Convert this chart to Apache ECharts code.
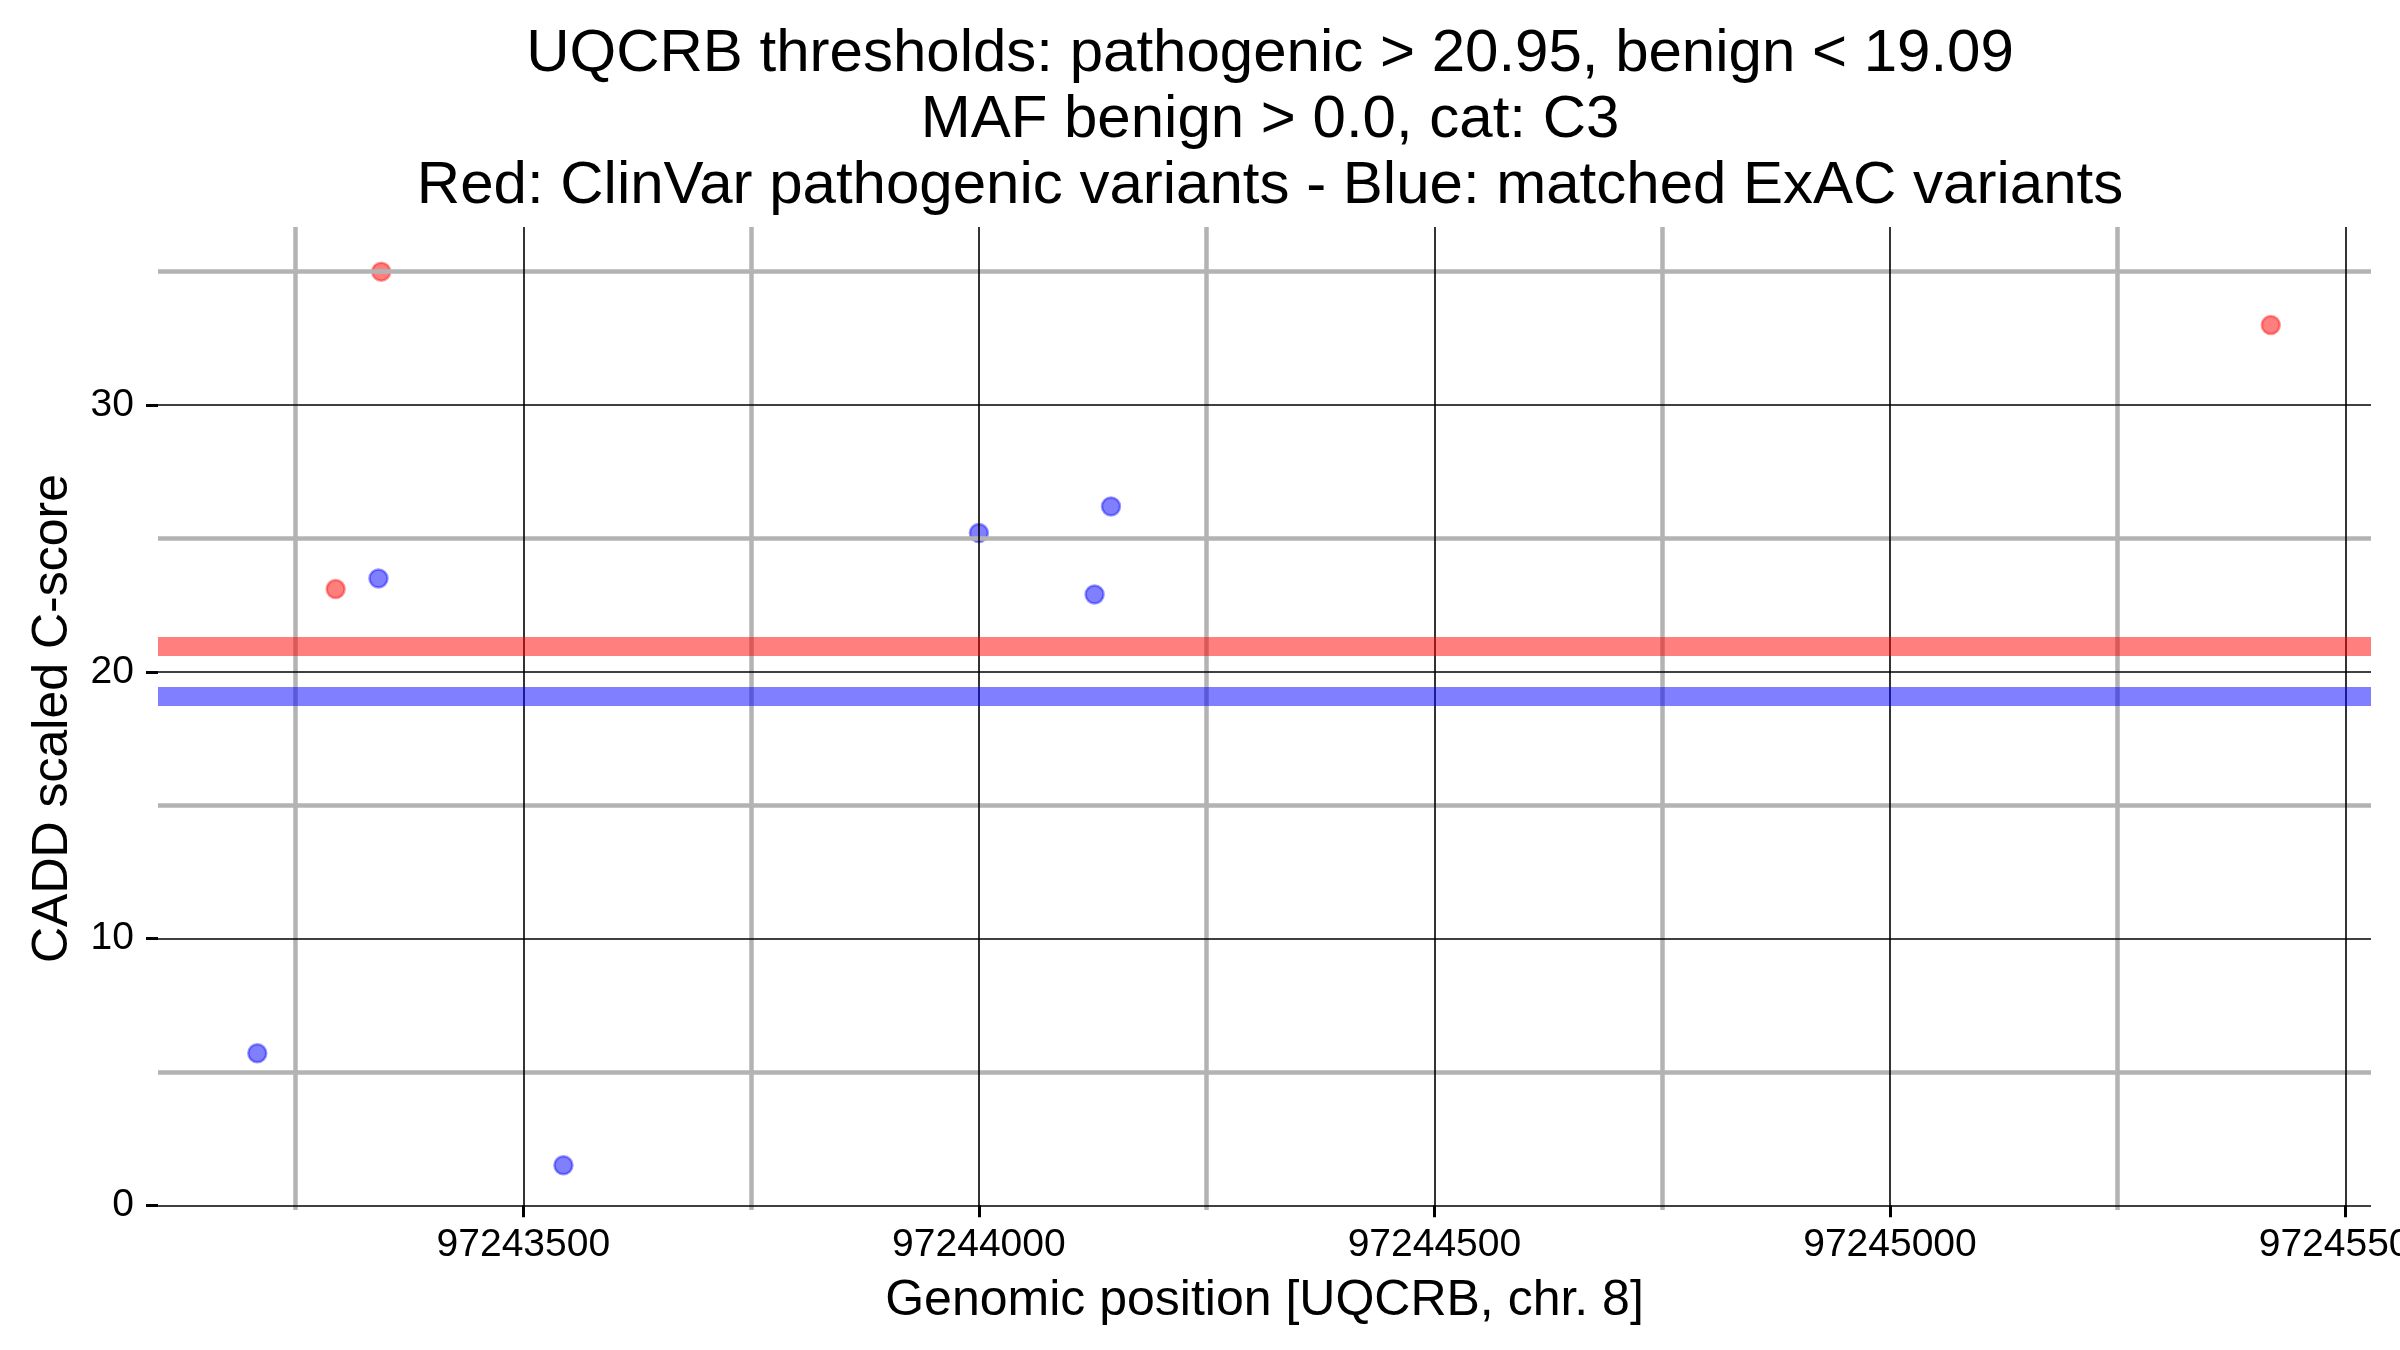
<!DOCTYPE html>
<html>
<head>
<meta charset="utf-8">
<script src="https://cdn.jsdelivr.net/npm/echarts@6/dist/echarts.min.js"></script>
<style>html,body{margin:0;padding:0;background:#fff}#c{width:2400px;height:1350px}</style>
</head>
<body>
<div id="c"></div>
<script>
// ---- data ----
const titleLines = [
  'UQCRB thresholds: pathogenic > 20.95, benign < 19.09',
  'MAF benign > 0.0, cat: C3',
  'Red: ClinVar pathogenic variants - Blue: matched ExAC variants'
];
const xAxisTitle = 'Genomic position [UQCRB, chr. 8]';
const yAxisTitle = 'CADD scaled C-score';
const pathogenicThreshold = 20.95;
const benignThreshold = 19.09;
// ClinVar pathogenic variants [position, CADD]
const redPoints = [[97243294, 23.1], [97243344, 35.0], [97245418, 33.0]];
// matched ExAC variants [position, CADD]
const bluePoints = [[97243208, 5.7], [97243341, 23.5], [97243544, 1.5], [97244000, 25.2], [97244127, 22.9], [97244145, 26.2]];
const xMajorTicks = [97243500, 97244000, 97244500, 97245000, 97245500];
const xMinorTicks = [97243250, 97243750, 97244250, 97244750, 97245250];
const yMajorTicks = [0, 10, 20, 30];
const yMinorTicks = [5, 15, 25, 35];
const xRange = [97243099, 97245528];
const yRange = [-0.175, 36.675];

const FONT = '"Liberation Sans", Arial, Helvetica, sans-serif';
const chart = echarts.init(document.getElementById('c'), null, {renderer: 'canvas'});

const grey = {color: '#b3b3b3', width: 4.5, type: 'solid'};
const black = {color: '#000000', width: 1.6, type: 'solid'};
const gridLineData = []
  .concat(yMinorTicks.map(v => ({yAxis: v, lineStyle: grey})))
  .concat(xMinorTicks.map(v => ({xAxis: v, lineStyle: grey})))
  .concat(yMajorTicks.map(v => ({yAxis: v, lineStyle: black})))
  .concat(xMajorTicks.map(v => ({xAxis: v, lineStyle: black})));

chart.setOption({
  animation: false,
  backgroundColor: '#ffffff',
  title: {
    text: titleLines.join('\n'),
    left: 1265,
    top: 16,
    textAlign: 'center',
    textStyle: {fontFamily: FONT, fontSize: 60, fontWeight: 'normal', color: '#000', lineHeight: 66}
  },
  grid: {left: 158, right: 29, top: 227, bottom: 140, containLabel: false, outerBoundsMode: 'none'},
  xAxis: {
    type: 'value', min: xRange[0], max: xRange[1],
    name: xAxisTitle, nameLocation: 'middle', nameGap: 66,
    nameTextStyle: {fontFamily: FONT, fontSize: 50, color: '#000'},
    axisLine: {show: false},
    axisTick: {show: true, customValues: xMajorTicks, length: 12, lineStyle: {color: '#000', width: 3}},
    axisLabel: {show: true, customValues: xMajorTicks, margin: 16, fontFamily: FONT, fontSize: 39, color: '#000', formatter: v => String(v), hideOverlap: false},
    splitLine: {show: false}
  },
  yAxis: {
    type: 'value', min: yRange[0], max: yRange[1],
    name: yAxisTitle, nameLocation: 'middle', nameGap: 80,
    nameTextStyle: {fontFamily: FONT, fontSize: 50, color: '#000'},
    axisLine: {show: false},
    axisTick: {show: true, customValues: yMajorTicks, length: 12, lineStyle: {color: '#000', width: 3}},
    axisLabel: {show: true, customValues: yMajorTicks, margin: 24, fontFamily: FONT, fontSize: 39, color: '#000'},
    splitLine: {show: false}
  },
  series: [
    {
      type: 'scatter', data: [], z: 1, silent: true,
      markLine: {silent: true, symbol: 'none', label: {show: false}, animation: false, data: gridLineData}
    },
    {
      type: 'scatter', data: [], z: 2, silent: true,
      markLine: {silent: true, symbol: 'none', label: {show: false}, animation: false,
        data: [
          {yAxis: pathogenicThreshold, lineStyle: {color: 'rgba(255,0,0,0.5)', width: 19, type: 'solid'}},
          {yAxis: benignThreshold, lineStyle: {color: 'rgba(0,0,255,0.5)', width: 19, type: 'solid'}}
        ]}
    },
    {
      type: 'scatter', name: 'ClinVar', data: redPoints, z: 3, symbol: 'circle', symbolSize: 18,
      itemStyle: {color: 'rgba(255,0,0,0.5)', borderColor: 'rgba(255,0,0,0.4)', borderWidth: 2.5, opacity: 1}
    },
    {
      type: 'scatter', name: 'ExAC', data: bluePoints, z: 3, symbol: 'circle', symbolSize: 18,
      itemStyle: {color: 'rgba(0,0,255,0.5)', borderColor: 'rgba(0,0,255,0.4)', borderWidth: 2.5, opacity: 1}
    }
  ]
});
</script>
</body>
</html>
